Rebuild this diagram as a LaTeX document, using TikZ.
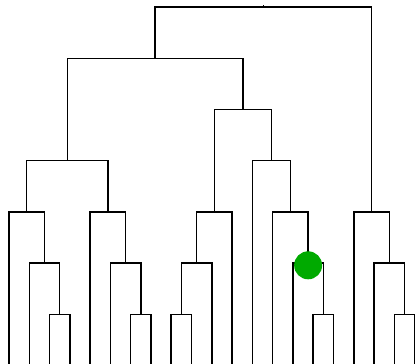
\documentclass[tikz,border=0pt]{standalone}
\usetikzlibrary{calc}
\definecolor{markgreen}{RGB}{0,170,0}
\tikzset{
  link/.style={draw=black, line width=1.5pt},
  dot/.style={circle, fill=markgreen, draw=none, minimum size=28pt, inner sep=0pt}
}
\begin{document}
\begin{tikzpicture}[x=1pt, y=-1pt]
\useasboundingbox (0,0) rectangle (416,364);
% leaves
\foreach \i in {0,...,20} {
  \coordinate (L\i) at ({9+20.28*\i}, 366);
}
% internal merge points
\coordinate (a1) at (59.70, 314.3);
\coordinate (a2) at (44.49, 263);
\coordinate (a3) at (26.745, 211.9);
\coordinate (b1) at (140.82, 314.3);
\coordinate (b2) at (125.61, 263);
\coordinate (b3) at (107.865, 211.9);
\coordinate (d)  at (67.305, 160.7);
\coordinate (c1) at (181.38, 314.3);
\coordinate (c2) at (196.59, 263);
\coordinate (c3) at (214.335, 211.9);
\coordinate (f1) at (323.34, 314.3);
\coordinate (f2) at (308.13, 263);
\coordinate (f3) at (290.385, 211.9);
\coordinate (f4) at (271.37, 160.7);
\coordinate (g)  at (242.85, 109.5);
\coordinate (e)  at (155.08, 58.3);
\coordinate (h1) at (404.46, 314.3);
\coordinate (h2) at (389.25, 263);
\coordinate (h3) at (371.5, 211.9);
\coordinate (root) at (263.29, 7);
\coordinate (roottop) at (263.29, 5);
% links
\draw[link] (L2) |- (a1) -| (L3);
\draw[link] (L1) |- (a2) -| (a1);
\draw[link] (L0) |- (a3) -| (a2);
\draw[link] (L6) |- (b1) -| (L7);
\draw[link] (L5) |- (b2) -| (b1);
\draw[link] (L4) |- (b3) -| (b2);
\draw[link] (a3) |- (d) -| (b3);
\draw[link] (L8) |- (c1) -| (L9);
\draw[link] (c1) |- (c2) -| (L10);
\draw[link] (c2) |- (c3) -| (L11);
\draw[link] (L15) |- (f1) -| (L16);
\draw[link] (L14) |- (f2) -| (f1);
\draw[link] (L13) |- (f3) -| (f2);
\draw[link] (L12) |- (f4) -| (f3);
\draw[link] (c3) |- (g) -| (f4);
\draw[link] (d) |- (e) -| (g);
\draw[link] (L19) |- (h1) -| (L20);
\draw[link] (L18) |- (h2) -| (h1);
\draw[link] (L17) |- (h3) -| (h2);
\draw[link] (e) |- (root) -| (h3);
\draw[link] (root) -- (roottop);
% marker
\node[dot] (mark) at ($(f2)+(0,2.3)$) {};
\end{tikzpicture}
\end{document}
